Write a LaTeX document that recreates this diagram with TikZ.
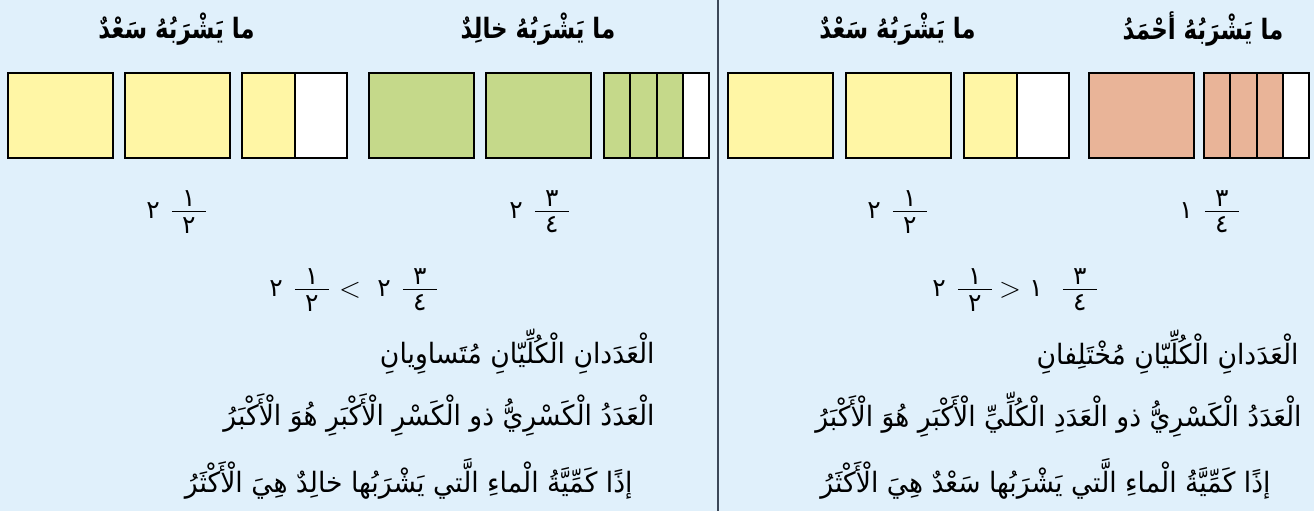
\documentclass[tikz,border=0pt]{standalone}
\usepackage{fontspec}
\usepackage{graphicx}
\newfontfamily\arabicfont[Script=Arabic]{DejaVu Sans}
\TeXXeTstate=1
\definecolor{bgc}{RGB}{224,240,251}
\definecolor{yel}{RGB}{255,246,165}
\definecolor{grn}{RGB}{197,217,138}
\definecolor{sal}{RGB}{233,180,152}
\definecolor{divc}{RGB}{60,72,88}
\newcommand\frc[2]{$\vcenter{\hbox to 17pt{\hfil\arabicfont #1\hfil}\kern2pt\hrule height 0.75pt\kern2.4pt\hbox to 17pt{\hfil\arabicfont #2\hfil}}$}
\newcommand\mixd[4][6pt]{{\arabicfont #2}\hspace{#1}\frc{#3}{#4}}
\newcommand\ttltext[1]{\scalebox{0.82}[1]{\beginR #1\endR}}
\newcommand\bodytext[1]{\scalebox{0.95}[1]{\beginR #1\endR}}
\begin{document}
\begin{tikzpicture}[x=0.5pt,y=-0.5pt,
  box/.style={draw=black, line width=1pt, inner sep=0pt, minimum height=42.5pt, anchor=north west},
  whole/.style={box, minimum width=52.5pt},
  half/.style={box, minimum width=26.25pt},
  quarter/.style={box, minimum width=13.125pt},
  ttl/.style={inner sep=0pt, font=\arabicfont\bfseries\fontsize{14}{17}\selectfont},
  body/.style={inner sep=0pt, anchor=east, font=\arabicfont\fontsize{14}{17}\selectfont},
  num/.style={inner sep=0pt, anchor=west, font=\arabicfont\fontsize{12.5}{14}\selectfont},
  rel/.style={inner sep=0pt, font=\fontsize{14}{16}\selectfont}]
\fill[bgc] (0,0) rectangle (1314,511);
\useasboundingbox (0,0) rectangle (1314,511);
% divider
\coordinate (dtop) at (718,0);
\coordinate (dbot) at (718,511);
\draw[divc, line width=0.8pt] (dtop) -- (dbot);
% titles
\node[ttl] (t1) at (176.5,29) {\ttltext{ما يَشْرَبُهُ سَعْدٌ}};
\node[ttl] (t2) at (538,29) {\ttltext{ما يَشْرَبُهُ خالِدٌ}};
\node[ttl] (t3) at (897.5,29) {\ttltext{ما يَشْرَبُهُ سَعْدٌ}};
\node[ttl] (t4) at (1203,29) {\ttltext{ما يَشْرَبُهُ أحْمَدُ}};
% left panel: Saad
\node[whole, fill=yel] (a1) at (7,72) {};
\node[whole, fill=yel] (a2) at (124,72) {};
\node[half, fill=yel] (a3) at (241,72) {};
\node[half, fill=white] (a4) at (293.5,72) {};
% Khalid
\node[whole, fill=grn] (b1) at (368,72) {};
\node[whole, fill=grn] (b2) at (485,72) {};
\node[quarter, fill=grn] (b3) at (603,72) {};
\node[quarter, fill=grn] (b4) at (629.25,72) {};
\node[quarter, fill=grn] (b5) at (655.5,72) {};
\node[quarter, fill=white] (b6) at (681.75,72) {};
% right panel: Saad
\node[whole, fill=yel] (c1) at (727,72) {};
\node[whole, fill=yel] (c2) at (845,72) {};
\node[half, fill=yel] (c3) at (963,72) {};
\node[half, fill=white] (c4) at (1015.5,72) {};
% Ahmad
\node[whole, fill=sal] (d1) at (1088,72) {};
\node[quarter, fill=sal] (d2) at (1203,72) {};
\node[quarter, fill=sal] (d3) at (1229.25,72) {};
\node[quarter, fill=sal] (d4) at (1255.5,72) {};
\node[quarter, fill=white] (d5) at (1281.75,72) {};
% numbers, left panel
\node[num] (n1) at (146,212) {\mixd{٢}{١}{٢}};
\node[num] (n2) at (509,212) {\mixd{٢}{٣}{٤}};
\node[num] (n3) at (269,290) {\mixd{٢}{١}{٢}};
\node[rel] (r1) at (350,290) {$<$};
\node[num] (n4) at (377,290) {\mixd{٢}{٣}{٤}};
% numbers, right panel
\node[num] (m1) at (867,212) {\mixd{٢}{١}{٢}};
\node[num] (m2) at (1179,212) {\mixd{١}{٣}{٤}};
\node[num] (m3) at (932,290) {\mixd{٢}{١}{٢}};
\node[rel] (r2) at (1010,290) {$>$};
\node[num] (m4) at (1029,290) {\mixd[10pt]{١}{٣}{٤}};
% text, left panel
\node[body] (l1) at (655,352) {\bodytext{الْعَدَدانِ الْكُلِّيّانِ مُتَساوِيانِ}};
\node[body] (l2) at (655,415) {\bodytext{الْعَدَدُ الْكَسْرِيُّ ذو الْكَسْرِ الْأَكْبَرِ هُوَ الْأَكْبَرُ}};
\node[body] (l3) at (633,479) {\bodytext{إذًا كَمِّيَّةُ الْماءِ الَّتي يَشْرَبُها خالِدٌ هِيَ الْأَكْثَرُ}};
% text, right panel
\node[body] (k1) at (1299,352) {\bodytext{الْعَدَدانِ الْكُلِّيّانِ مُخْتَلِفانِ}};
\node[body] (k2) at (1302,415) {\bodytext{الْعَدَدُ الْكَسْرِيُّ ذو الْعَدَدِ الْكُلِّيِّ الْأَكْبَرِ هُوَ الْأَكْبَرُ}};
\node[body] (k3) at (1271,479) {\bodytext{إذًا كَمِّيَّةُ الْماءِ الَّتي يَشْرَبُها سَعْدٌ هِيَ الْأَكْثَرُ}};
\end{tikzpicture}
\end{document}
